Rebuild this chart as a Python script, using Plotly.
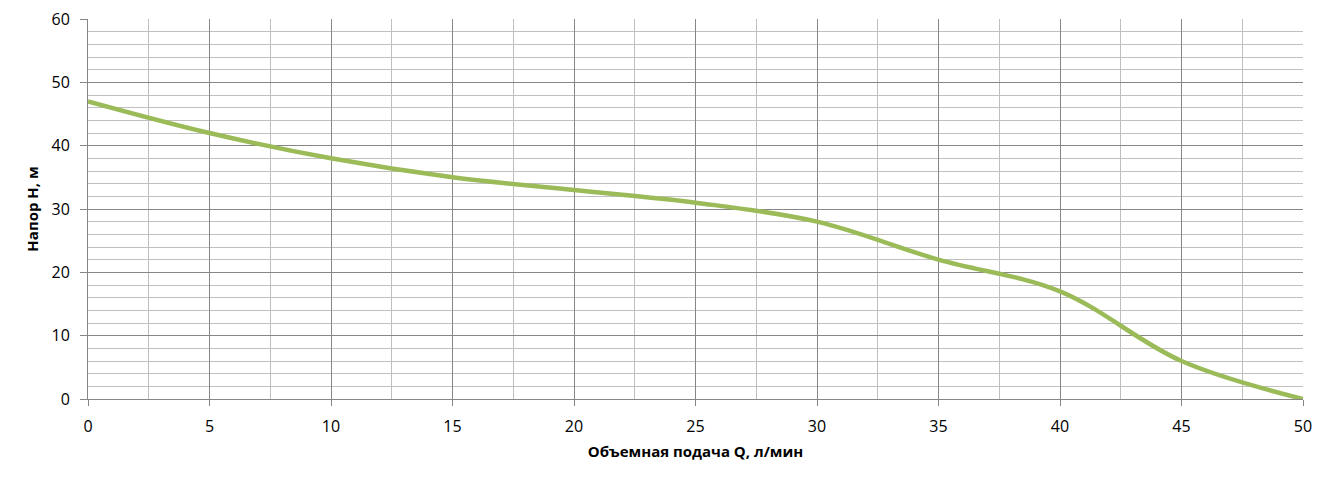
import plotly.graph_objects as go

flow_q = [0, 5, 10, 15, 20, 25, 30, 35, 40, 45, 50]
head_h = [47, 42, 38, 35, 33, 31, 28, 22, 17, 6, 0]

x_title = "Объемная подача Q, л/мин"
y_title = "Напор H, м"

fig = go.Figure()
fig.add_trace(go.Scatter(
    x=flow_q, y=head_h, mode="lines",
    line=dict(color="#9BBB59", width=4.5, shape="spline", smoothing=1.0),
    showlegend=False, hoverinfo="x+y",
))

font_family = "'Open Sans', sans-serif"

fig.update_layout(
    width=1331, height=478,
    margin=dict(l=80, r=36, t=11, b=87),
    paper_bgcolor="white", plot_bgcolor="white",
    font=dict(family=font_family, size=16, color="#000000"),
)
fig.update_xaxes(
    range=[0, 50], dtick=5, tick0=0, automargin=False,
    showgrid=True, gridcolor="#868686", gridwidth=1,
    minor=dict(dtick=2.5, tick0=0, showgrid=True, gridcolor="#BFBFBF", gridwidth=1),
    showline=True, linecolor="#868686", linewidth=1,
    ticks="outside", ticklen=6, tickcolor="#868686",
    zeroline=False, ticklabelstandoff=7, ticklabeloverflow="allow",
    title=dict(text="<b>" + x_title + "</b>", font=dict(size=15, family=font_family), standoff=10),
    tickfont=dict(size=16),
)
fig.update_yaxes(
    range=[0, 60], dtick=10, tick0=0, automargin=False,
    showgrid=True, gridcolor="#868686", gridwidth=1,
    minor=dict(dtick=2, tick0=0, showgrid=True, gridcolor="#BFBFBF", gridwidth=1),
    showline=True, linecolor="#868686", linewidth=1,
    ticks="outside", ticklen=7, tickcolor="#868686",
    zeroline=False, ticklabelstandoff=7, ticklabeloverflow="allow",
    title=dict(text="<b>" + y_title + "</b>", font=dict(size=15, family=font_family), standoff=9),
    tickfont=dict(size=16),
)

fig.write_html("out.html")
